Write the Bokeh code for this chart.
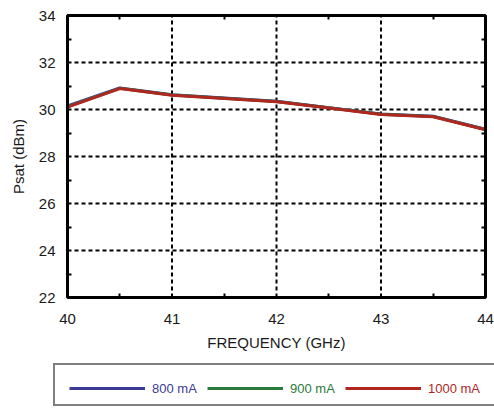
from bokeh.plotting import figure
from bokeh.models import LinearAxis, Legend, LegendItem, FixedTicker, Range1d, BoxAnnotation
from bokeh.embed import file_html
from bokeh.resources import INLINE

freq = [40.0, 40.5, 41.0, 41.5, 42.0, 42.5, 43.0, 43.5, 44.0]
psat_800 = [30.15, 30.92, 30.63, 30.49, 30.35, 30.08, 29.81, 29.71, 29.16]
psat_900 = [30.12, 30.90, 30.62, 30.48, 30.34, 30.07, 29.80, 29.70, 29.15]
psat_1000 = [30.10, 30.89, 30.61, 30.47, 30.33, 30.06, 29.79, 29.69, 29.14]
series_names = ["800 mA", "900 mA", "1000 mA"]
series_colors = ["#3b3b94", "#2a7a3c", "#b0271f"]
x_ticks = [40, 41, 42, 43, 44]
y_ticks = [22, 24, 26, 28, 30, 32, 34]
x_minor = [40.5, 41.5, 42.5, 43.5]
y_minor = [23, 25, 27, 29, 31, 33]

FONT = "Liberation Sans"
TXT = "#1a1a1a"

# canvas and plot-box geometry (pixels)
W, H = 494, 408
BOX_L, BOX_R, BOX_T, BOX_B = 67, 485, 15, 297
x0, x1 = x_ticks[0], x_ticks[-1]
y0, y1 = y_ticks[0], y_ticks[-1]
sx = (BOX_R - BOX_L) / (x1 - x0)
sy = (BOX_B - BOX_T) / (y1 - y0)
xr = Range1d(x0 - BOX_L / sx, x1 + (W - BOX_R) / sx)
yr = Range1d(y0 - (H - BOX_B) / sy, y1 + BOX_T / sy)

p = figure(width=W, height=H, output_backend="svg", toolbar_location=None,
           x_range=xr, y_range=yr, x_axis_location=None, y_axis_location=None,
           min_border=0)
p.outline_line_color = None
p.background_fill_color = None
p.border_fill_color = None
p.grid.visible = False


def style_ticks(ax):
    ax.axis_line_color = None
    ax.major_tick_in = 0
    ax.major_tick_out = 0
    ax.minor_tick_in = 4
    ax.minor_tick_out = 0
    ax.minor_tick_line_color = "black"
    ax.minor_tick_line_width = 2


xa = LinearAxis(ticker=FixedTicker(ticks=x_ticks, minor_ticks=x_minor), fixed_location=y0,
                bounds=(x0, x1), axis_label="FREQUENCY (GHz)")
ya = LinearAxis(ticker=FixedTicker(ticks=y_ticks, minor_ticks=y_minor), fixed_location=x0,
                bounds=(y0, y1), axis_label="Psat (dBm)")
for ax in (xa, ya):
    style_ticks(ax)
    ax.major_label_text_font = FONT
    ax.major_label_text_font_size = "15px"
    ax.major_label_text_color = TXT
    ax.axis_label_text_font = FONT
    ax.axis_label_text_font_size = "15px"
    ax.axis_label_text_font_style = "normal"
    ax.axis_label_text_color = TXT
xa.major_label_standoff = 16
xa.axis_label_standoff = 7
ya.major_label_standoff = 12
ya.axis_label_standoff = 9
p.add_layout(xa, "below")
p.add_layout(ya, "left")

for loc, ticks, minor, fl, bd in (("right", y_ticks, y_minor, x1, (y0, y1)),
                                  ("above", x_ticks, x_minor, y1, (x0, x1))):
    ax = LinearAxis(ticker=FixedTicker(ticks=ticks, minor_ticks=minor), fixed_location=fl,
                    bounds=bd, major_label_overrides={t: "" for t in ticks})
    style_ticks(ax)
    ax.major_label_standoff = 0
    p.add_layout(ax, loc)

# dashed grid inside the plot box
gx = x_ticks[1:-1]
gy = y_ticks[1:-1]
p.segment(x0=gx, y0=[y0] * len(gx), x1=gx, y1=[y1] * len(gx),
          line_color="black", line_width=2, line_dash="4 3")
p.segment(x0=[x0] * len(gy), y0=gy, x1=[x1] * len(gy), y1=gy,
          line_color="black", line_width=2, line_dash="4 3")

renderers = []
for ys, c in zip((psat_800, psat_900, psat_1000), series_colors):
    renderers.append(p.line(freq, ys, line_color=c, line_width=3))

p.add_layout(BoxAnnotation(left=x0, right=x1, bottom=y0, top=y1, fill_color=None,
                           line_color="black", line_width=3, line_alpha=1))

# legend box (frame only)
ghost = p.line(freq[:1], psat_800[:1], line_alpha=0)
box = Legend(items=[LegendItem(label=" ", renderers=[ghost])], location=(53, 2),
             border_line_color="black", border_line_width=2, background_fill_color=None,
             padding=0, margin=0, spacing=0, glyph_width=1, glyph_height=39,
             label_width=438, label_height=39, label_standoff=0,
             label_text_font_size="13px")
p.add_layout(box, "center")

offsets = [69, 207, 345]
for name, c, r, off in zip(series_names, series_colors, renderers, offsets):
    leg = Legend(items=[LegendItem(label=name, renderers=[r])], location=(off, 12),
                 border_line_color=None, background_fill_color=None,
                 padding=0, margin=0, spacing=0,
                 glyph_width=76, glyph_height=16, label_height=16, label_standoff=7,
                 label_text_font=FONT, label_text_font_size="13px", label_text_color=c)
    p.add_layout(leg, "center")

open("out.html", "w").write(file_html(p, INLINE))
